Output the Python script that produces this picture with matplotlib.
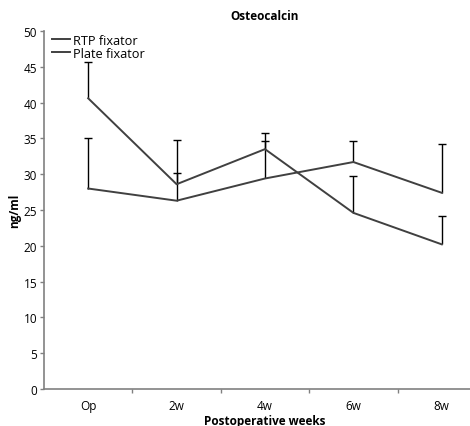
import matplotlib
matplotlib.use("Agg")
import matplotlib.pyplot as plt
import numpy as np

categories = ["Op", "2w", "4w", "6w", "8w"]
rtp_mean = [28.0, 26.3, 29.4, 31.7, 27.4]
rtp_err = [7.0, 3.9, 5.2, 2.9, 6.8]
plate_mean = [40.6, 28.6, 33.5, 24.6, 20.2]
plate_err = [5.1, 6.2, 2.3, 5.1, 4.0]
yticks = [0, 5, 10, 15, 20, 25, 30, 35, 40, 45, 50]

plt.rcParams['font.family'] = ['Open Sans', 'DejaVu Sans']

fig = plt.figure(figsize=(4.70, 4.27), dpi=100)
ax = fig.add_axes([44/470, 37/427, 442/470, 358/427])

x = np.arange(len(categories))
line_col = '#404040'
for m, e, lab in [(rtp_mean, rtp_err, 'RTP fixator'), (plate_mean, plate_err, 'Plate fixator')]:
    m = np.array(m)
    e = np.array(e)
    ax.vlines(x, m, m + e, colors='black', lw=1.0, zorder=2)
    ax.plot(x, m + e, ls='none', marker='_', ms=6, mew=1.0, color='black', zorder=2)
    ax.plot(x, m, color=line_col, lw=1.4, label=lab, zorder=3)

ax.set_xlim(-0.5, len(categories) - 0.5)
ax.set_ylim(0, 50)
ax.set_yticks(yticks)
ax.set_xticks(x)
ax.set_xticklabels(categories)
ax.set_xticks(np.arange(len(categories) - 1) + 0.5, minor=True)
ax.tick_params(axis='x', which='major', length=0, labelsize=8.5, pad=7)
ax.tick_params(axis='x', which='minor', length=3, width=1, color='#808080', direction='out')
ax.tick_params(axis='y', length=3, width=1, color='#808080', labelsize=8.5, pad=2)

for s in ['top', 'right']:
    ax.spines[s].set_visible(False)
for s in ['left', 'bottom']:
    ax.spines[s].set_color('#808080')
    ax.spines[s].set_linewidth(1.2)

ax.set_title('Osteocalcin', fontsize=8.5, fontweight='bold', pad=9)
ax.set_xlabel('Postoperative weeks', fontsize=8.5, fontweight='bold', labelpad=1.5)
ax.set_ylabel('ng/ml', fontsize=8.5, fontweight='bold', labelpad=2)

leg = ax.legend(loc='upper left', bbox_to_anchor=(0.0, 1.0 + 5/358), frameon=False,
                fontsize=9.2, handlelength=1.4, handletextpad=0.3,
                labelspacing=0.0, borderaxespad=0.2)

fig.savefig('out.png', dpi=100)
